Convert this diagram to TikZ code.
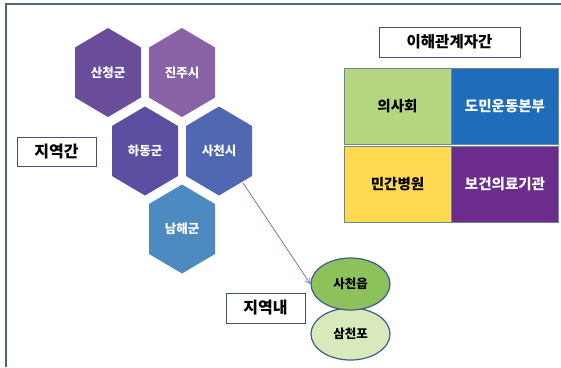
\documentclass[tikz,border=0pt]{standalone}
\usepackage{fontspec}
\setmainfont{Noto Sans CJK KR}
\usetikzlibrary{shapes.geometric,arrows.meta}
\definecolor{hexA}{HTML}{6A4E9C}
\definecolor{hexB}{HTML}{8A62A6}
\definecolor{hexC}{HTML}{5A4FA0}
\definecolor{hexD}{HTML}{5068B2}
\definecolor{hexE}{HTML}{4E8AC2}
\definecolor{frameC}{HTML}{4F6478}
\definecolor{boxC}{HTML}{3F5373}
\definecolor{gGreen}{HTML}{B5D67E}
\definecolor{gBlue}{HTML}{1F6DBA}
\definecolor{gYellow}{HTML}{FFD94F}
\definecolor{gPurple}{HTML}{6B2C8E}
\definecolor{gEdge}{HTML}{6A8A9A}
\definecolor{eGreen}{HTML}{8DC15A}
\definecolor{eLight}{HTML}{D8EABB}
\definecolor{eEdge}{HTML}{3D5C8C}
\definecolor{arrC}{HTML}{5878B0}
\tikzset{
  x=1pt,y=-1pt,
  hexlabel/.style={text=white,font=\bfseries\fontsize{12.5}{14}\selectfont},
  labelbox/.style={draw=boxC,line width=1pt,fill=white,font=\fontsize{16}{18}\selectfont\bfseries,inner sep=0pt},
  gridbox/.style={draw=gEdge,line width=0.8pt,minimum width=107pt,minimum height=76pt,inner sep=0pt,font=\bfseries\fontsize{14.5}{16}\selectfont},
  ellnode/.style={ellipse,draw=eEdge,line width=1.2pt,minimum width=79pt,minimum height=52pt,inner sep=0pt,font=\bfseries\fontsize{12.5}{14}\selectfont},
}
\begin{document}
\begin{tikzpicture}
\useasboundingbox (0,0) rectangle (561,367);
\fill[white] (0,0) rectangle (561,367);
% frame
\draw[frameC,line width=1.3pt] (6,367) -- (6,4) -- (561,4);
% hexagons
\fill[hexA] (108,28) -- (141,47.5) -- (141,97.5) -- (108,117) -- (75,97.5) -- (75,47.5) -- cycle;
\fill[hexB] (182,28) -- (215,47.5) -- (215,97.5) -- (182,117) -- (149,97.5) -- (149,47.5) -- cycle;
\fill[hexC] (145,106.5) -- (178,126) -- (178,176) -- (145,195.5) -- (112,176) -- (112,126) -- cycle;
\fill[hexD] (219,106.5) -- (252,126) -- (252,176) -- (219,195.5) -- (186,176) -- (186,126) -- cycle;
\fill[hexE] (182,184.5) -- (215,204) -- (215,254) -- (182,273.5) -- (149,254) -- (149,204) -- cycle;
\node[hexlabel] (sancheong) at (108,72.5) {산청군};
\node[hexlabel] (jinju) at (182,72.5) {진주시};
\node[hexlabel] (hadong) at (145,151) {하동군};
\node[hexlabel] (sacheon) at (219,151) {사천시};
\node[hexlabel] (namhae) at (182,229) {남해군};
\coordinate (sacheonedge) at (243,183);
% label boxes
\node[labelbox,minimum width=79pt,minimum height=29pt] (inter) at (56.5,151.5) {지역간};
\node[labelbox,minimum width=79pt,minimum height=30pt] (intra) at (265.5,308) {지역내};
\node[labelbox,minimum width=141pt,minimum height=30pt,font=\fontsize{15.5}{17}\selectfont\bfseries] (stake) at (449.5,42) {이해관계자간};
% grid
\node[gridbox,fill=gGreen] (doc) at (397.5,106) {의사회};
\node[gridbox,fill=gBlue,text=white] (civic) at (505,106) {도민운동본부};
\node[gridbox,fill=gYellow] (hosp) at (397.5,184.5) {민간병원};
\node[gridbox,fill=gPurple,text=white] (health) at (505,184.5) {보건의료기관};
% ellipses
\node[ellnode,fill=eLight] (samcheonpo) at (350.5,334) {삼천포};
\node[ellnode,fill=eGreen] (sacheoneup) at (350.5,284) {사천읍};
% arrow
\draw[arrC,line width=0.7pt,-{Straight Barb[length=5pt,width=6pt]}] (sacheonedge) -- (sacheoneup.west);
\end{tikzpicture}
\end{document}
